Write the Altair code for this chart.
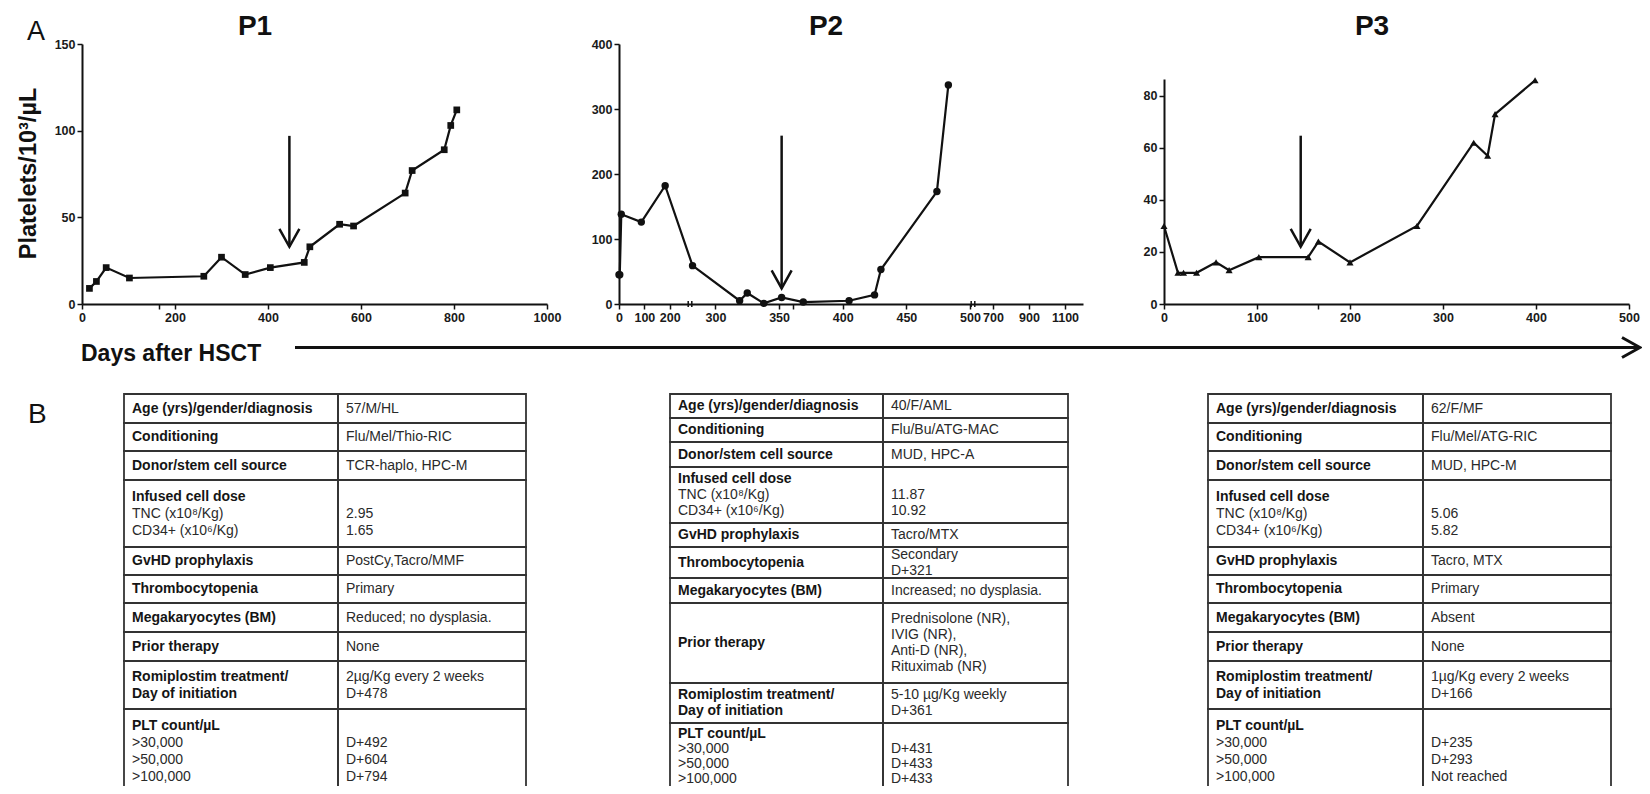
import json
import altair as alt
import pandas as pd

FONT = "Liberation Sans"
INK = "#111111"

# ---------------- Panel A: platelet counts ----------------
p1_day = [16, 31, 52, 102, 262, 300, 351, 405, 478, 490, 554, 584, 695, 710, 779, 793, 806]
p1_plt = [9, 13, 21, 15, 16, 27, 17, 21, 24, 33, 46, 45, 64, 77, 89, 103, 112]

p2_day = [0, 3, 9, 88, 182, 282, 319, 325, 338, 352, 369, 405, 425, 430, 474, 483]
p2_plt = [45, 45, 138, 126, 182, 59, 5, 17, 1, 10, 3, 5, 14, 53, 173, 337]

p3_day = [0, 15, 21, 35, 56, 70, 102, 155, 166, 200, 272, 333, 348, 356, 399]
p3_plt = [30, 12, 12, 12, 16, 13, 18, 18, 24, 16, 30, 62, 57, 73, 86]

# Romiplostim start arrows (day, arrow top value, arrow tip value)
arrow_day = [446, 352, 147]
arrow_top = [97, 259, 64.7]
arrow_tip = [33, 24, 22]

panel_titles = ["P1", "P2", "P3"]
y_title = "Platelets/10³/µL"
x_caption = "Days after HSCT"

p1_xticks = [0, 166, 200, 400, 600, 800, 1000]
p2_xticks = [0, 100, 200, 300, 350, 361, 400, 450, 500, 700, 900, 1100]
p3_xticks = [0, 100, 166, 200, 300, 400, 500]
unlabeled_ticks = [[166], [361], [166]]
p1_yticks = [0, 50, 100, 150]
p2_yticks = [0, 100, 200, 300, 400]
p3_yticks = [0, 20, 40, 60, 80]
p2_breaks = [280, 526]

# ---------------- Panel B: tables ----------------
row_labels = [
    ["Age (yrs)/gender/diagnosis"],
    ["Conditioning"],
    ["Donor/stem cell source"],
    ["Infused cell dose", "TNC (x10⁸/Kg)", "CD34+ (x10⁶/Kg)"],
    ["GvHD prophylaxis"],
    ["Thrombocytopenia"],
    ["Megakaryocytes (BM)"],
    ["Prior therapy"],
    ["Romiplostim treatment/", "Day of initiation"],
    ["PLT count/µL", ">30,000", ">50,000", ">100,000"],
]
row_label_bold = [
    [True], [True], [True], [True, False, False], [True], [True], [True], [True],
    [True, True], [True, False, False, False],
]
t1_values = [
    ["57/M/HL"], ["Flu/Mel/Thio-RIC"], ["TCR-haplo, HPC-M"], ["", "2.95", "1.65"],
    ["PostCy,Tacro/MMF"], ["Primary"], ["Reduced; no dysplasia."], ["None"],
    ["2µg/Kg every 2 weeks", "D+478"], ["", "D+492", "D+604", "D+794"],
]
t2_values = [
    ["40/F/AML"], ["Flu/Bu/ATG-MAC"], ["MUD, HPC-A"], ["", "11.87", "10.92"],
    ["Tacro/MTX"], ["Secondary", "D+321"], ["Increased; no dysplasia."],
    ["Prednisolone (NR),", "IVIG (NR),", "Anti-D (NR),", "Rituximab (NR)"],
    ["5-10 µg/Kg weekly", "D+361"], ["", "D+431", "D+433", "D+433"],
]
t3_values = [
    ["62/F/MF"], ["Flu/Mel/ATG-RIC"], ["MUD, HPC-M"], ["", "5.06", "5.82"],
    ["Tacro, MTX"], ["Primary"], ["Absent"], ["None"],
    ["1µg/Kg every 2 weeks", "D+166"], ["", "D+235", "D+293", "Not reached"],
]

# ---------------- layout (styles / positions) ----------------
W, H = 1634, 778
AX_Y = 296

PANELS = [
    dict(day=p1_day, plt=p1_plt, xdom=[0, 1000], xrng=[74, 539], ydom=[0, 150], yrng=[AX_Y, 36],
         xt=p1_xticks, yt=p1_yticks, shape="square", size=45),
    dict(day=p2_day, plt=p2_plt, xdom=[0, 280, 500, 700, 1200], xrng=[611, 682, 962, 985, 1075],
         ydom=[0, 400], yrng=[AX_Y, 36], xt=p2_xticks, yt=p2_yticks, shape="circle", size=55),
    dict(day=p3_day, plt=p3_plt, xdom=[0, 500], xrng=[1156, 1621], ydom=[0, 86.5], yrng=[AX_Y, 71],
         xt=p3_xticks, yt=p3_yticks, shape="triangle-up", size=50),
]
TITLE_X = [247, 818, 1364]

# rows: cell boundaries (table units); last_mid / last_lh: text block of the last row
TABLES = [
    dict(values=t1_values, cols=[124, 338, 526], lh=17,
         rows=[0, 29, 57, 86, 153, 181, 209, 238, 267, 315, 402], last_mid=357, last_lh=17),
    dict(values=t2_values, cols=[670, 883, 1068], lh=16,
         rows=[0, 24, 48, 73, 129, 153, 184, 209, 289, 329, 402], last_mid=362, last_lh=15),
    dict(values=t3_values, cols=[1208, 1423, 1611], lh=17,
         rows=[0, 29, 57, 86, 153, 181, 209, 238, 267, 315, 402], last_mid=357, last_lh=17),
]
TABLE_TOP = 386
TFONT = 14


def axis_common():
    return dict(grid=False, domainColor=INK, domainWidth=2, tickColor=INK, tickWidth=1.5,
                tickSize=5, labelFont=FONT, labelFontSize=12.5, labelFontWeight="bold",
                labelColor="#1a1a1a", labelOverlap=False, labelFlush=False, format="d")


def panel(i):
    cfg = PANELS[i]
    unl = json.dumps(unlabeled_ticks[i])
    xaxis = alt.Axis(orient="bottom", offset=AX_Y - H, values=cfg["xt"], title=None,
                     labelPadding=2,
                     labelExpr=f"indexof({unl}, datum.value) >= 0 ? '' : datum.label",
                     **axis_common())
    if i == 0:
        yaxis = alt.Axis(orient="left", offset=-cfg["xrng"][0], values=cfg["yt"], title=y_title,
                         titleFont=FONT, titleFontSize=23.5, titleFontWeight="bold", titleColor=INK,
                         titleX=-54, titleY=165, titleAlign="center", titleBaseline="middle",
                         titleAngle=270, labelPadding=2, **axis_common())
    else:
        yaxis = alt.Axis(orient="left", offset=-cfg["xrng"][0], values=cfg["yt"], title=None,
                         labelPadding=2, **axis_common())
    xs = alt.Scale(domain=cfg["xdom"], range=cfg["xrng"], nice=False, zero=False)
    ys = alt.Scale(domain=cfg["ydom"], range=cfg["yrng"], nice=False, zero=False)

    df = pd.DataFrame({"day": cfg["day"], "plt": cfg["plt"]})
    arr = pd.DataFrame({"day": [arrow_day[i]], "plt": [arrow_top[i]], "tip": [arrow_tip[i]]})

    x = alt.X("day:Q", scale=xs, axis=xaxis)
    y = alt.Y("plt:Q", scale=ys, axis=yaxis)
    ytip = alt.Y("tip:Q", scale=ys, axis=yaxis)

    line = alt.Chart(df).mark_line(color=INK, strokeWidth=2.2).encode(x=x, y=y)
    pts = alt.Chart(df).mark_point(shape=cfg["shape"], filled=True, color=INK, size=cfg["size"],
                                   opacity=1).encode(x=x, y=y)
    stem = alt.Chart(arr).mark_rule(color=INK, strokeWidth=2.5).encode(x=x, y=y, y2="tip:Q")
    head = alt.Chart(arr).mark_point(shape="M-1,-1.8L0,0L1,-1.8", size=400, filled=False,
                                     color=INK, strokeWidth=2.5, opacity=1).encode(x=x, y=ytip)
    layers = [line, pts, stem, head]
    if i == 1:
        brk = pd.DataFrame({"day": p2_breaks, "plt": [0] * len(p2_breaks)})
        layers.append(alt.Chart(brk).mark_point(shape="M-0.6,-1L-0.6,1M0.6,-1L0.6,1", size=36,
                                                filled=False, color=INK, strokeWidth=1.5,
                                                opacity=1).encode(x=x, y=y))
    return alt.layer(*layers)


def table(k):
    t = TABLES[k]
    left, mid, right = t["cols"]
    wt = right - left
    c1 = mid - left
    rows = t["rows"]
    cells, lines = [], []
    nrows = len(row_labels)
    for r in range(nrows):
        y0, y1 = rows[r], rows[r + 1]
        cells.append(dict(x0=0, x1=c1, y0=y0, y1=y1))
        cells.append(dict(x0=c1, x1=wt, y0=y0, y1=y1))
        last = r == nrows - 1
        yc = t["last_mid"] if last else (y0 + y1) / 2
        lh = t["last_lh"] if last else t["lh"]
        labs = row_labels[r]
        n = len(labs)
        for j, s in enumerate(labs):
            lines.append(dict(tx=8, ty=yc + (j - (n - 1) / 2) * lh, text=s,
                              bold=row_label_bold[r][j]))
        vals = t["values"][r]
        n = len(vals)
        for j, s in enumerate(vals):
            if s:
                lines.append(dict(tx=c1 + 8, ty=yc + (j - (n - 1) / 2) * lh, text=s, bold=False))
    cdf = pd.DataFrame(cells)
    ldf = pd.DataFrame(lines)
    xs = alt.Scale(domain=[0, wt], range=[left - 8, right - 8], nice=False, zero=False)
    ys = alt.Scale(domain=[0, 400], range=[TABLE_TOP, TABLE_TOP + 400], nice=False, zero=False)
    rect = alt.Chart(cdf).mark_rect(fillOpacity=0, stroke="#333333", strokeWidth=1.8).encode(
        x=alt.X("x0:Q", scale=xs, axis=None), x2="x1:Q",
        y=alt.Y("y0:Q", scale=ys, axis=None), y2="y1:Q")
    bold = alt.Chart(ldf[ldf["bold"]]).mark_text(
        align="left", baseline="middle", font=FONT, fontSize=TFONT, fontWeight="bold",
        color="#151515").encode(x=alt.X("tx:Q", scale=xs, axis=None),
                                y=alt.Y("ty:Q", scale=ys, axis=None), text="text:N")
    reg = alt.Chart(ldf[~ldf["bold"]]).mark_text(
        align="left", baseline="middle", font=FONT, fontSize=TFONT, fontWeight="normal",
        color="#2a2a2a").encode(x=alt.X("tx:Q", scale=xs, axis=None),
                                y=alt.Y("ty:Q", scale=ys, axis=None), text="text:N")
    return alt.layer(rect, bold, reg)


dummy = pd.DataFrame({"a": [0]})


def label(text, x, y, size, weight="normal", align="left"):
    return alt.Chart(dummy).mark_text(text=text, font=FONT, fontSize=size, fontWeight=weight,
                                      align=align, baseline="alphabetic", color=INK).encode(
        x=alt.value(x), y=alt.value(y))


annots = [
    label("A", 19, 32, 27),
    label("B", 20, 415, 28),
    label(x_caption, 73, 353, 23, "bold"),
]
for i in range(3):
    annots.append(label(panel_titles[i], TITLE_X[i], 27, 28, "bold", "center"))

long_arrow = alt.Chart(dummy).mark_rule(color=INK, strokeWidth=3).encode(
    x=alt.value(287), x2=alt.value(1631), y=alt.value(339.5))
long_head = alt.Chart(dummy).mark_point(shape="M-1.8,-1L0,0L-1.8,1", size=400, filled=False,
                                        color=INK, strokeWidth=3, opacity=1).encode(
    x=alt.value(1632), y=alt.value(339.5))

chart = alt.layer(
    panel(0), panel(1), panel(2), table(0), table(1), table(2),
    *annots, long_arrow, long_head,
).resolve_scale(x="independent", y="independent").properties(
    width=W, height=H, autosize=alt.AutoSizeParams(type="none"), padding=0,
).configure_view(stroke=None)

chart.save("out.html", embed_options={"renderer": "svg", "actions": False})
